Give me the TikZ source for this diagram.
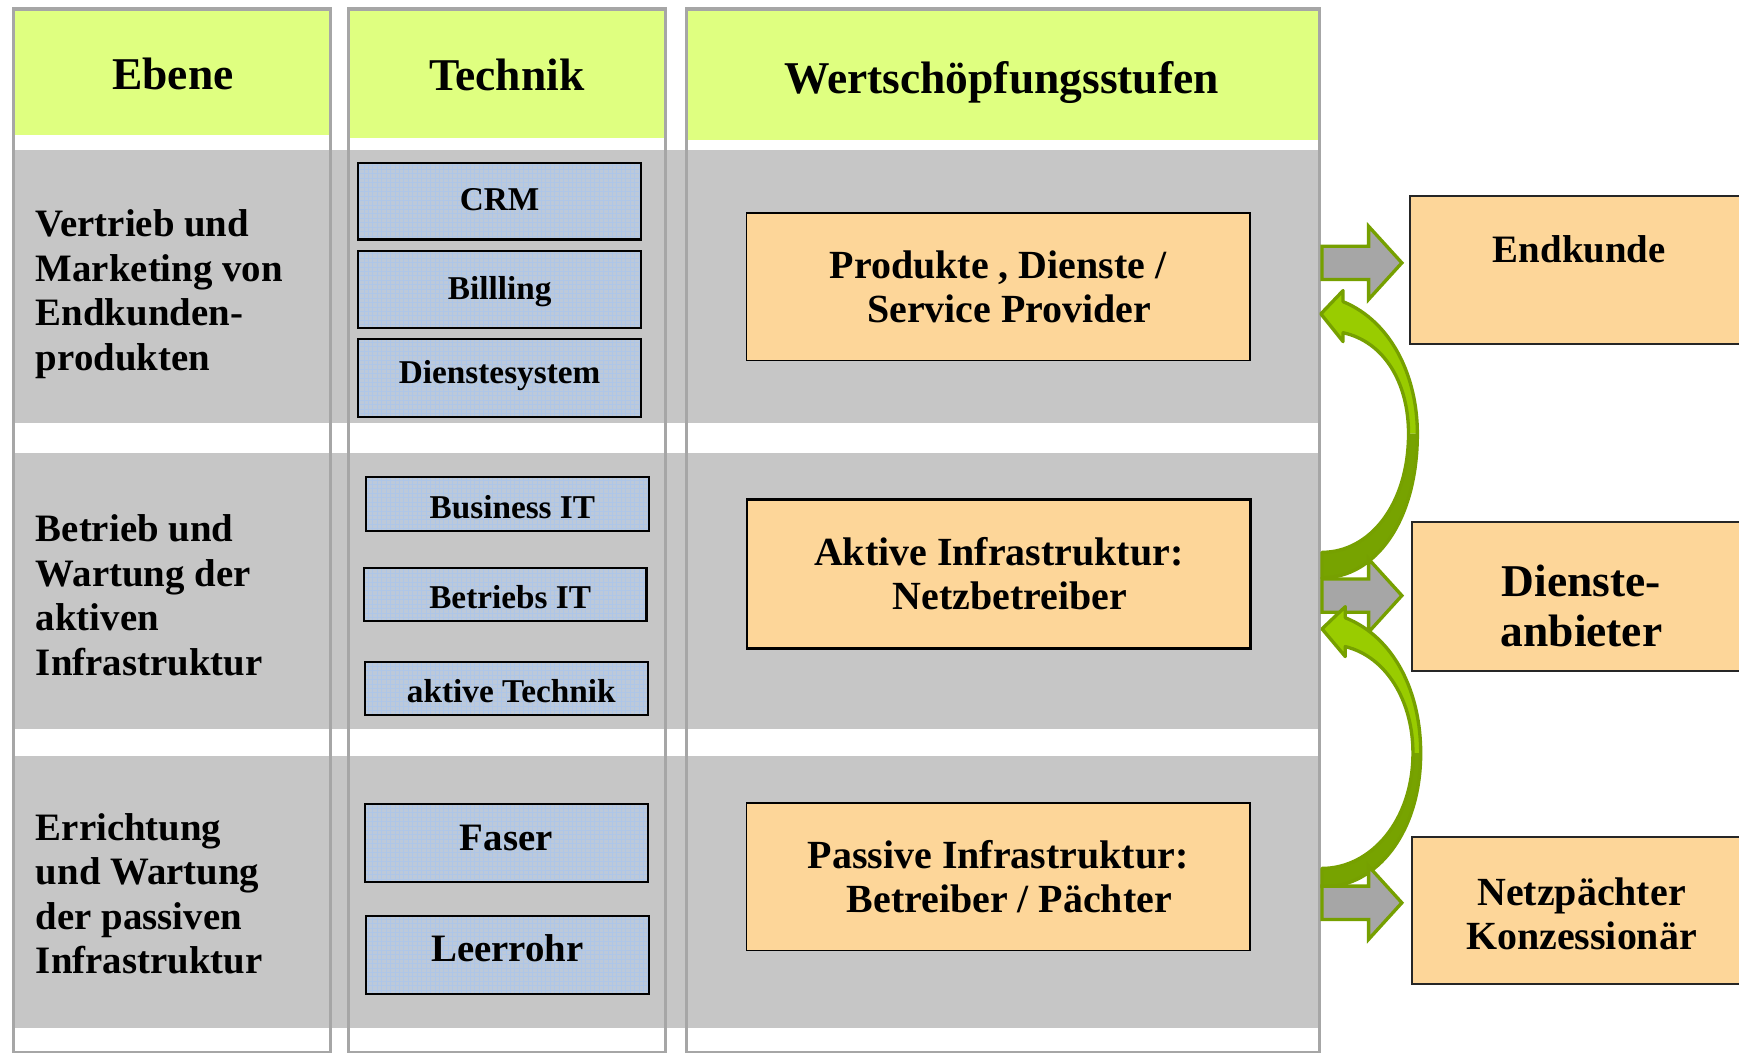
\documentclass[tikz,border=0pt]{standalone}
\usepackage{fontspec}
\setmainfont{Liberation Serif}
\usetikzlibrary{patterns.meta}
\definecolor{hdrgreen}{HTML}{DFFF80}
\definecolor{rowgray}{HTML}{C6C6C6}
\definecolor{colborder}{HTML}{A6A6A6}
\definecolor{techblue}{HTML}{BCC9DA}
\definecolor{gridblue}{HTML}{AEC6E8}
\definecolor{boxorange}{HTML}{FDD699}
\definecolor{arrowgray}{HTML}{A6A6A6}
\definecolor{arrowline}{HTML}{76A000}
\definecolor{lightgreen}{HTML}{99CC00}
\definecolor{darkgreen}{HTML}{77A300}
\newcommand\fs[2]{\fontsize{#1}{#2}\selectfont\bfseries}
\newcommand\shiftup[2]{\raisebox{#1}{#2}}
\tikzset{
  hdr/.style={font=\fs{20.5}{24}, inner sep=0pt, anchor=base},
  rowtext/.style={font=\fs{17.5}{20}, align=left, inner sep=0pt, anchor=north west},
  techbox/.style={draw=black, line width=1pt, preaction={fill=techblue},
    pattern={Hatch[angle=0,distance=2pt,line width=0.2pt]}, pattern color=gridblue,
    minimum width=127.5pt, inner sep=0pt, font=\fs{15}{18},
    text height=0.68em, text depth=0.2em},
  valbox/.style={draw=black, line width=0.8pt, fill=boxorange, minimum width=227pt,
    minimum height=66.5pt, inner sep=0pt, align=center, font=\fs{18}{20}},
  rbox/.style={draw=black!85, line width=0.8pt, fill=boxorange, minimum width=153pt,
    minimum height=66.5pt, inner sep=0pt},
  rtext/.style={inner sep=0pt, align=center},
  colframe/.style={draw=colborder, line width=1.5pt},
  grayarrow/.style={fill=arrowgray, draw=arrowline, line width=1.5pt, line join=miter},
  curveline/.style={draw=arrowline, line width=1.5pt, line join=round},
  garrow/.pic={\path[grayarrow] (0,-15) -- (42,-15) -- (42,-33) -- (72,0) -- (42,33) -- (42,15) -- (0,15) -- cycle;}
}
\begin{document}
\begin{tikzpicture}[x=0.5pt,y=-0.5pt]
\clip (0,0) rectangle (1568,948.6);
% headers
\fill[hdrgreen] (13,9) rectangle (297,122);
\fill[hdrgreen] (315,9) rectangle (599,124);
\fill[hdrgreen] (620,9) rectangle (1189,126);
% rows
\fill[rowgray] (12,135) rectangle (1190,381);
\fill[rowgray] (12,408) rectangle (1190,657);
\fill[rowgray] (12,682) rectangle (1190,927);
% column frames
\draw[colframe] (12,8) rectangle (298,949);
\draw[colframe] (314,8) rectangle (600,949);
\draw[colframe] (619,8) rectangle (1190,949);
% header texts
\node[hdr] (hEbene) at (156,81) {Ebene};
\node[hdr] (hTechnik) at (457,82) {Technik};
\node[hdr] (hWert) at (903,84) {Wertschöpfungsstufen};
% row labels
\node[rowtext] (ebene1) at (32,189) {Vertrieb und\\Marketing von\\Endkunden-\\produkten};
\node[rowtext] (ebene2) at (32,464) {Betrieb und\\Wartung der\\aktiven\\Infrastruktur};
\node[rowtext] (ebene3) at (32,733) {Errichtung\\und Wartung\\der passiven\\Infrastruktur};
% technik boxes
\node[techbox, minimum height=34.5pt] (crm) at (450.5,181.5) {\shiftup{-1.8pt}{CRM}};
\node[techbox, minimum height=35pt] (billing) at (450.5,261) {\shiftup{-2pt}{Billling}};
\node[techbox, minimum height=35pt] (dsys) at (450.5,341) {\shiftup{0.1pt}{Dienstesystem}};
\node[techbox, minimum height=24.5pt] (busit) at (457.5,454.5) {\hspace*{4.5pt}\shiftup{-4pt}{Business IT}};
\node[techbox, minimum height=24pt] (betit) at (455.5,536) {\hspace*{4.5pt}\shiftup{-3.8pt}{Betriebs IT}};
\node[techbox, minimum height=24pt] (aktt) at (456.5,621) {\hspace*{4.5pt}\shiftup{-3.8pt}{aktive Technik}};
\node[techbox, minimum height=35pt, font=\fs{17.5}{20}] (faser) at (456.5,760) {\shiftup{-1.1pt}{Faser}};
\node[techbox, minimum height=35pt, font=\fs{17.5}{20}] (leer) at (457.5,861) {\shiftup{-0.6pt}{Leerrohr}};
% value boxes
\node[valbox] (prod) at (900,258.5) {Produkte , Dienste /\\\hspace*{10pt}Service Provider};
\node[valbox, line width=1.3pt, minimum height=67.5pt] (aktiv) at (900.5,517.5) {Aktive Infrastruktur:\\\hspace*{10pt}Netzbetreiber};
\node[valbox] (passiv) at (900,790.5) {Passive Infrastruktur:\\\hspace*{10pt}Betreiber / Pächter};
% curved arrow 1
\path[fill=lightgreen] (1211,272) .. controls (1255,290) and (1278,340) .. (1278,391) -- (1270,391) .. controls (1270,345) and (1248,308) .. (1211,300) -- (1211,308) -- (1191,283) -- (1211,262) -- cycle;
\path[fill=darkgreen] (1278,391) .. controls (1278,470) and (1240,521) .. (1192,521) -- (1192,498) .. controls (1235,498) and (1270,455) .. (1270,391) -- cycle;
\path[curveline] (1211,272) .. controls (1255,290) and (1278,340) .. (1278,391) .. controls (1278,470) and (1240,521) .. (1192,521) -- (1192,498) .. controls (1235,498) and (1270,455) .. (1270,391) .. controls (1270,345) and (1248,308) .. (1211,300) -- (1211,308) -- (1191,283) -- (1211,262) -- cycle;
% gray arrows 1,2
\coordinate (ga1) at (1192,237);
\coordinate (ga2) at (1192,537);
\coordinate (ga3) at (1192,814);
\pic at (ga1) {garrow};
\pic at (ga2) {garrow};
% curved arrow 2
\path[fill=lightgreen] (1213,557) .. controls (1258,575) and (1281,625) .. (1281,679) -- (1274,679) .. controls (1274,632) and (1250,592) .. (1213,583) -- (1213,592) -- (1192,567) -- (1213,547) -- cycle;
\path[fill=darkgreen] (1281,679) .. controls (1281,750) and (1242,800) .. (1192,800) -- (1192,783) .. controls (1236,783) and (1274,740) .. (1274,679) -- cycle;
\path[curveline] (1213,557) .. controls (1258,575) and (1281,625) .. (1281,679) .. controls (1281,750) and (1242,800) .. (1192,800) -- (1192,783) .. controls (1236,783) and (1274,740) .. (1274,679) .. controls (1274,632) and (1250,592) .. (1213,583) -- (1213,592) -- (1192,567) -- (1213,547) -- cycle;
\pic at (ga3) {garrow};
% right boxes
\node[rbox] (endk) at (1424,243.5) {};
\node[rtext, font=\fs{17.5}{20}] (endkT) at (1424,225) {Endkunde};
\node[rbox, minimum height=67pt] (dienst) at (1426,538) {};
\node[rtext, font=\fs{20.5}{22.5}] (dienstT) at (1426,546) {Dienste-\\anbieter};
\node[rbox] (netz) at (1426,821) {};
\node[rtext, font=\fs{18}{20}] (netzT) at (1426,824) {Netzpächter\\Konzessionär};
\end{tikzpicture}
\end{document}
